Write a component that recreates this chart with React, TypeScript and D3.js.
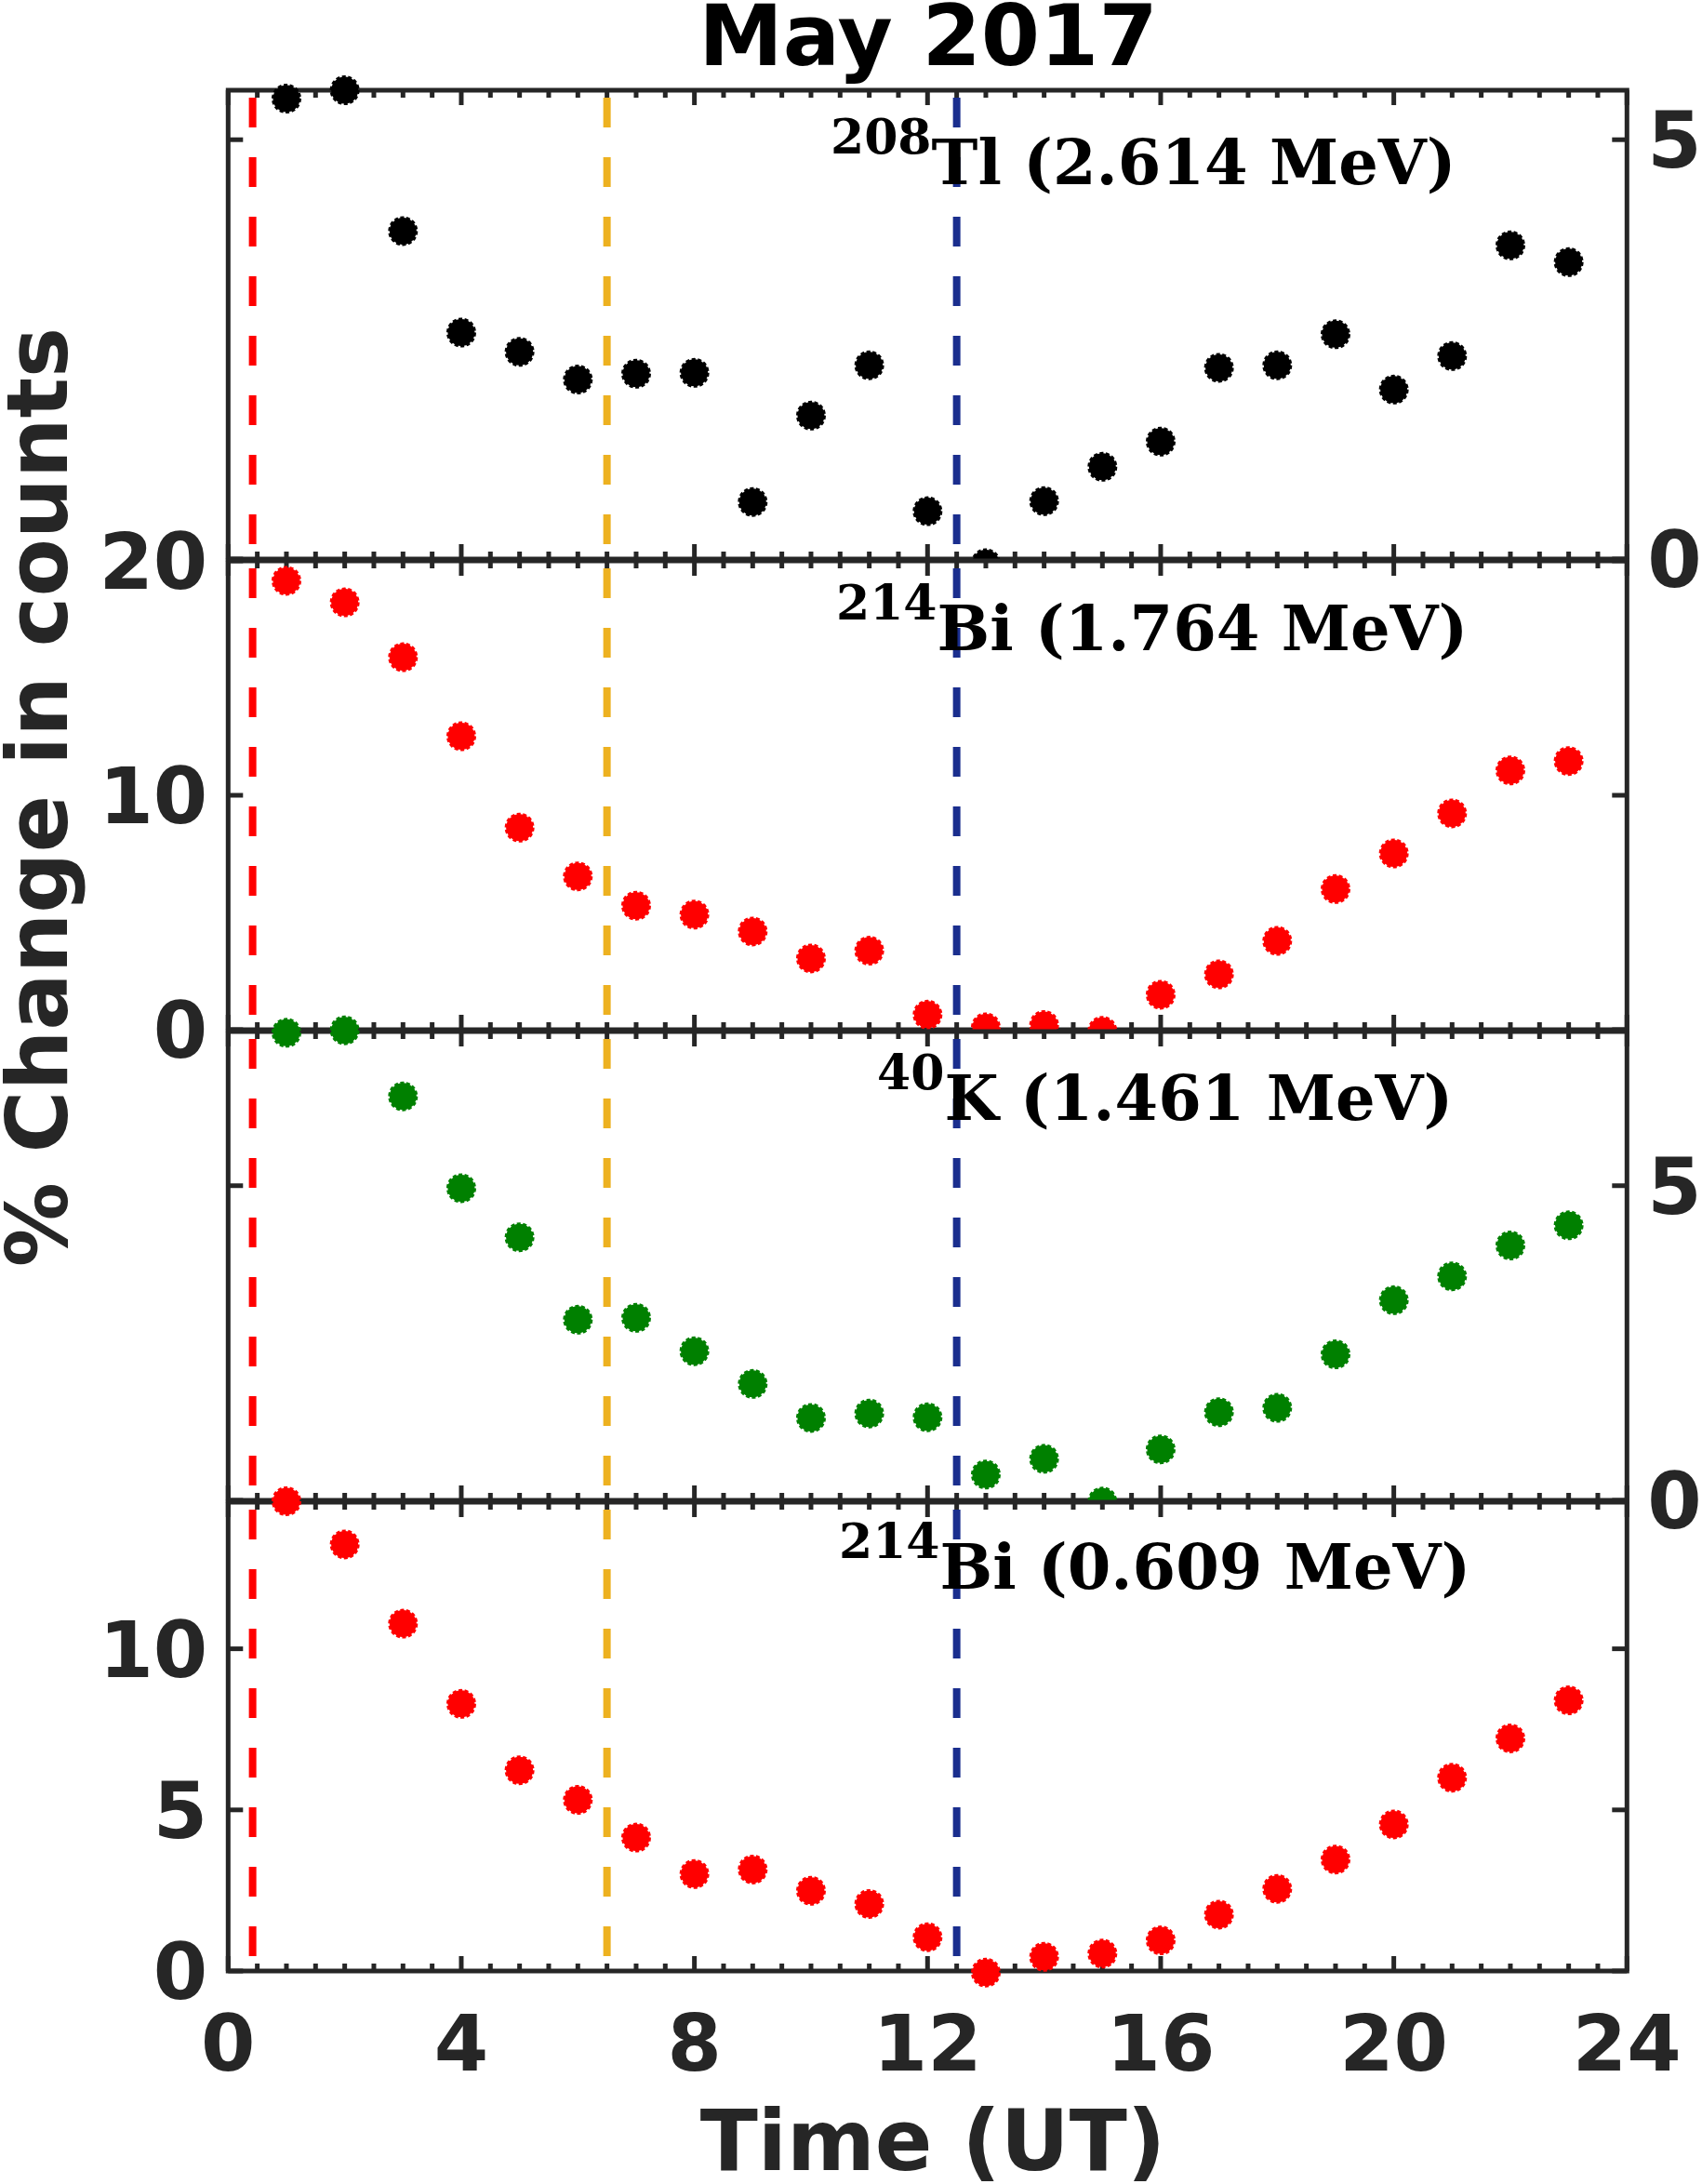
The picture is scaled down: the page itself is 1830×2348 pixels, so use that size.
import * as d3 from "d3";

// hours (UT)
const HOURS = [1, 2, 3, 4, 5, 6, 7, 8, 9, 10, 11, 12, 13, 14, 15, 16, 17, 18, 19, 20, 21, 22, 23];

// % change in counts per line
const TL208 = [5.49, 5.59, 3.91, 2.7, 2.47, 2.14, 2.21, 2.22, 0.68, 1.71, 2.31, 0.57, -0.05, 0.69, 1.1, 1.4, 2.28, 2.31, 2.68, 2.02, 2.42, 3.74, 3.54];
const BI1764 = [19.15, 18.23, 15.89, 12.52, 8.62, 6.54, 5.29, 4.91, 4.19, 3.04, 3.37, 0.64, 0.1, 0.2, -0.05, 1.49, 2.36, 3.79, 6.0, 7.52, 9.23, 11.06, 11.46];
const K1461 = [7.43, 7.47, 6.42, 4.96, 4.18, 2.87, 2.9, 2.37, 1.85, 1.31, 1.38, 1.32, 0.41, 0.66, -0.02, 0.81, 1.4, 1.47, 2.32, 3.18, 3.56, 4.05, 4.37];
const BI609 = [14.58, 13.24, 10.78, 8.29, 6.23, 5.31, 4.14, 3.01, 3.15, 2.49, 2.08, 1.05, -0.05, 0.44, 0.54, 0.95, 1.75, 2.55, 3.46, 4.55, 6.0, 7.22, 8.4];

// vertical reference times (UT)
const REF_LINES = [
  { t: 0.42, color: "#ff0000" },
  { t: 6.5, color: "#edb120" },
  { t: 12.5, color: "#1a2e8e" },
];

const X_MAJOR = [0, 4, 8, 12, 16, 20, 24];

const PANELS = [
  { values: TL208, color: "#000000", yMax: 5.59, ticks: [0, 5], left: [], right: [0, 5], iso: "208", label: "Tl (2.614 MeV)", supX: 893, base: 100.6 },
  { values: BI1764, color: "#ff0000", yMax: 20, ticks: [0, 10, 20], left: [0, 10, 20], right: [], iso: "214", label: "Bi (1.764 MeV)", supX: 899, base: 96 },
  { values: K1461, color: "#008000", yMax: 7.45, ticks: [0, 5], left: [], right: [0, 5], iso: "40", label: "K (1.461 MeV)", supX: 943, base: 94.6 },
  { values: BI609, color: "#ff0000", yMax: 14.55, ticks: [0, 5, 10], left: [0, 5, 10], right: [], iso: "214", label: "Bi (0.609 MeV)", supX: 902, base: 92.8 },
];

const W = 1830;
const H = 2348;
const LEFT = 245.3;
const RIGHT = 1749.3;
const TOP = 97;
const PH = 504;
const GAP = 2;
const AX = "#262626";
const SANS = "'DejaVu Sans', sans-serif";
const SERIF = "'DejaVu Serif', serif";

const x = d3.scaleLinear().domain([0, 24]).range([LEFT, RIGHT]);
const minor = d3.range(0.5, 24, 0.5).filter((v) => v % 4 !== 0);

function Panel({ p, i }: { p: (typeof PANELS)[number]; i: number }) {
  const top = TOP + i * (PH + GAP);
  const bottom = top + PH;
  const y = d3.scaleLinear().domain([0, p.yMax]).range([bottom, top]);
  return (
    <g>
      <rect x={LEFT} y={top} width={RIGHT - LEFT} height={PH} fill="#fff" />
      {REF_LINES.map((r) => (
        <line
          key={r.t}
          x1={x(r.t)}
          x2={x(r.t)}
          y1={top + 8}
          y2={bottom}
          stroke={r.color}
          strokeWidth={8}
          strokeDasharray="32 32"
        />
      ))}
      {/* x ticks, top and bottom */}
      {X_MAJOR.map((t) => (
        <g key={"M" + t} stroke={AX} strokeWidth={5}>
          <line x1={x(t)} x2={x(t)} y1={top} y2={top + 16} />
          <line x1={x(t)} x2={x(t)} y1={bottom} y2={bottom - 16} />
        </g>
      ))}
      {minor.map((t) => (
        <g key={"m" + t} stroke={AX} strokeWidth={5}>
          <line x1={x(t)} x2={x(t)} y1={top} y2={top + 8} />
          <line x1={x(t)} x2={x(t)} y1={bottom} y2={bottom - 8} />
        </g>
      ))}
      {p.ticks.map((t) => (
        <g key={"y" + t} stroke={AX} strokeWidth={5}>
          <line x1={LEFT} x2={LEFT + 16} y1={y(t)} y2={y(t)} />
          <line x1={RIGHT} x2={RIGHT - 16} y1={y(t)} y2={y(t)} />
        </g>
      ))}
      <rect x={LEFT} y={top} width={RIGHT - LEFT} height={PH} fill="none" stroke={AX} strokeWidth={5} />
      {p.values.map((v, k) => (
        <circle
          key={k}
          cx={x(HOURS[k])}
          cy={y(v)}
          r={14.5}
          fill={p.color}
          stroke={p.color}
          strokeWidth={3}
          strokeDasharray="4 2.5"
        />
      ))}
      <text x={p.supX} y={top + p.base} fontFamily={SERIF} fontWeight="bold" fill="#000">
        <tspan fontSize={52} dy={-33}>
          {p.iso}
        </tspan>
        <tspan fontSize={67} dy={33}>
          {p.label}
        </tspan>
      </text>
    </g>
  );
}

function Labels({ p, i }: { p: (typeof PANELS)[number]; i: number }) {
  const top = TOP + i * (PH + GAP);
  const y = d3.scaleLinear().domain([0, p.yMax]).range([top + PH, top]);
  return (
    <g fontFamily={SANS} fontWeight="bold" fontSize={84} fill={AX}>
      {p.left.map((t) => (
        <text key={"l" + t} x={LEFT - 22} y={y(t)} dy="0.36em" textAnchor="end">
          {t}
        </text>
      ))}
      {p.right.map((t) => (
        <text key={"r" + t} x={RIGHT + 22} y={y(t)} dy="0.36em" textAnchor="start">
          {t}
        </text>
      ))}
    </g>
  );
}

export default function App() {
  const bottom = TOP + 3 * (PH + GAP) + PH;
  return (
    <svg
      width={W}
      height={H}
      viewBox={`0 0 ${W} ${H}`}
      style={{ display: "block", position: "absolute", left: 0, top: 0, background: "#fff" }}
    >
      <rect width={W} height={H} fill="#fff" />
      {PANELS.map((p, i) => (
        <Panel key={i} p={p} i={i} />
      ))}
      {PANELS.map((p, i) => (
        <Labels key={i} p={p} i={i} />
      ))}
      <g fontFamily={SANS} fontWeight="bold" fontSize={84} fill={AX} textAnchor="middle">
        {X_MAJOR.map((t) => (
          <text key={t} x={x(t)} y={bottom + 107}>
            {t}
          </text>
        ))}
      </g>
      <text x={1003} y={2333} fontFamily={SANS} fontWeight="bold" fontSize={91} fill={AX} textAnchor="middle">
        Time (UT)
      </text>
      <text
        transform={`translate(72, 857) rotate(-90)`}
        fontFamily={SANS}
        fontWeight="bold"
        fontSize={91}
        fill={AX}
        textAnchor="middle"
      >
        % Change in counts
      </text>
      <text x={998} y={70} fontFamily={SANS} fontWeight="bold" fontSize={91} fill="#000" textAnchor="middle">
        May 2017
      </text>
    </svg>
  );
}
